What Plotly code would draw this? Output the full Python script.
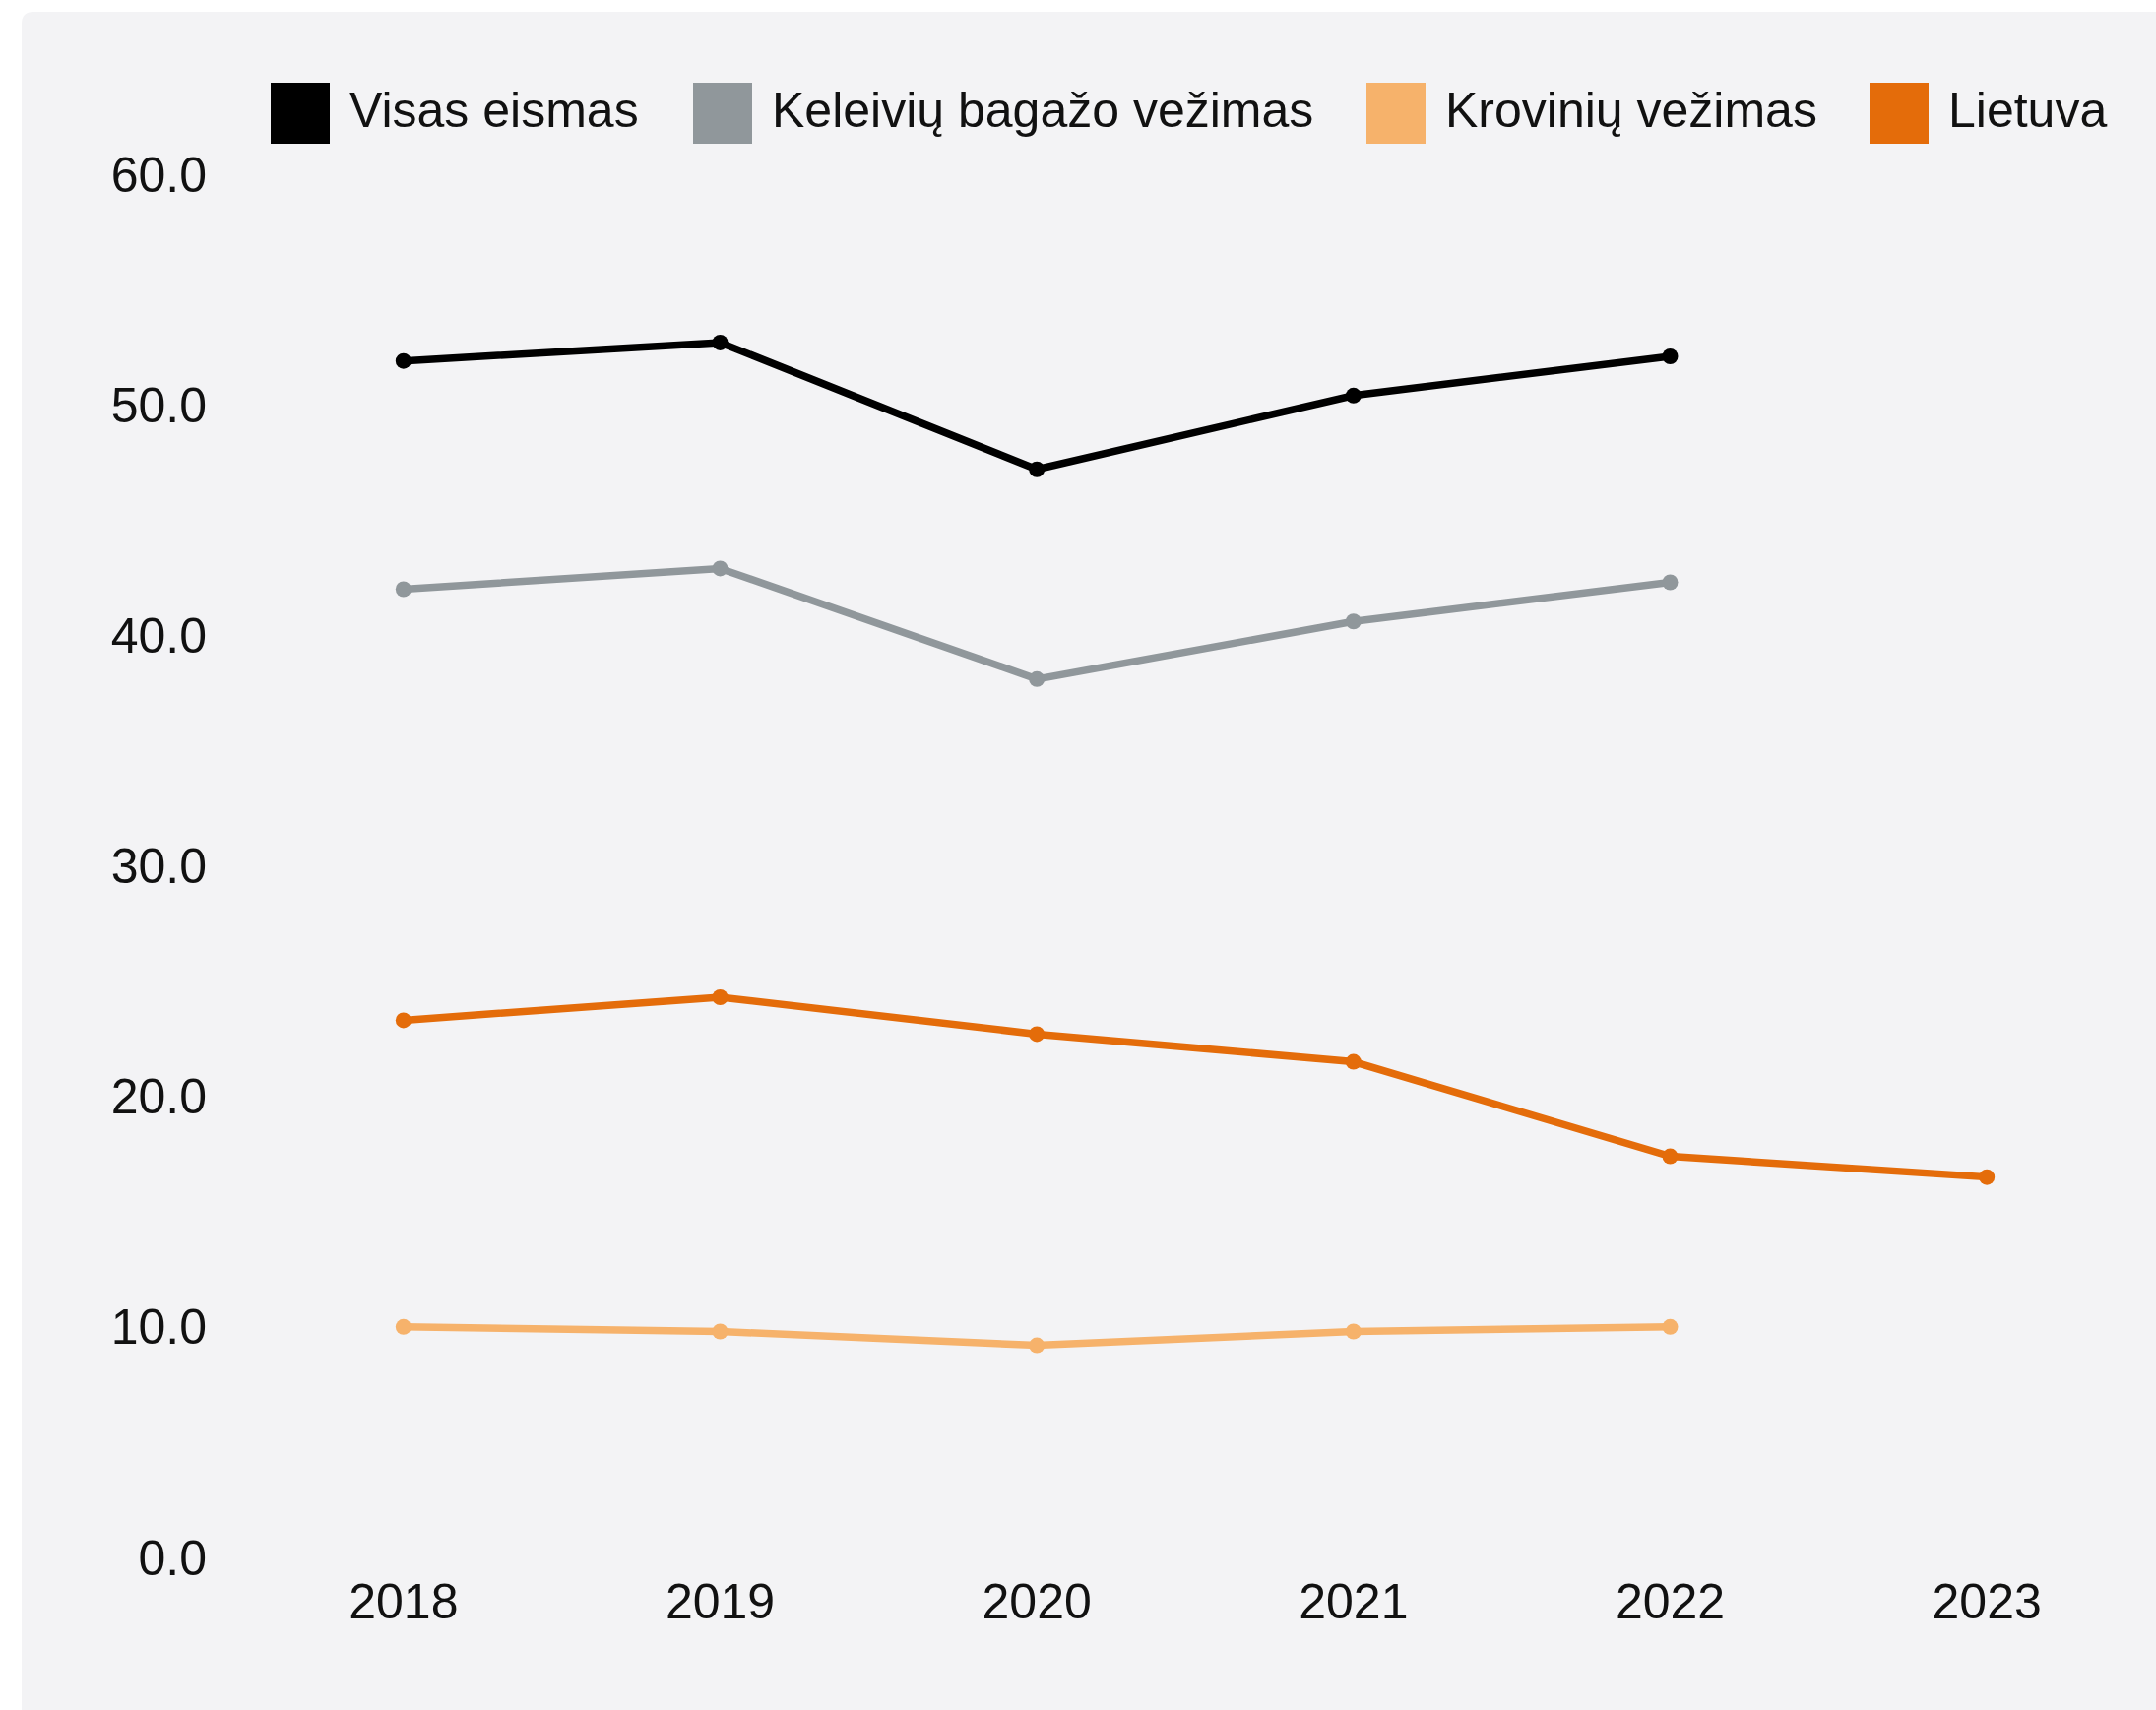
import plotly.graph_objects as go

years = [2018, 2019, 2020, 2021, 2022, 2023]
visas_eismas = [51.9, 52.7, 47.2, 50.4, 52.1]
keleiviu = [42.0, 42.9, 38.1, 40.6, 42.3]
kroviniu = [10.0, 9.8, 9.2, 9.8, 10.0]
lietuva = [23.3, 24.3, 22.7, 21.5, 17.4, 16.5]

names = ["Visas eismas", "Keleivių bagažo vežimas", "Krovinių vežimas", "Lietuva"]
colors = ["#000000", "#90979b", "#f6b26b", "#e46c0a"]
series = [visas_eismas, keleiviu, kroviniu, lietuva]
y_ticks = [0, 10, 20, 30, 40, 50, 60]

W, H = 2190, 1737
L, R, T, B = 249, 11, 130, 137
pw, ph = W - L - R, H - T - B

def px(x):
    return (x - L) / pw

def py(y):
    return (H - B - y) / ph

FONT = "Liberation Sans, Arial, sans-serif"

fig = go.Figure()
for name, col, vals in zip(names, colors, series):
    fig.add_trace(go.Scatter(
        x=years[:len(vals)], y=vals, name=name, mode="lines+markers",
        line=dict(color=col, width=7.5),
        marker=dict(color=col, size=16),
        showlegend=False,
    ))

# card background with rounded top-left corner
r = 12
x0, y0, x1, y1 = px(22), py(12), px(2210), py(1760)
rx, ry = r / pw, r / ph
path = (f"M {x0},{y1} L {x0},{y0 - ry} Q {x0},{y0} {x0 + rx},{y0} "
        f"L {x1},{y0} L {x1},{y1} Z")
shapes = [dict(type="path", path=path, xref="paper", yref="paper",
               fillcolor="#f3f3f5", line=dict(width=0), layer="below")]

# custom legend
sw_x = [275, 704, 1388, 1899]
annotations = []
for name, col, sx in zip(names, colors, sw_x):
    shapes.append(dict(type="rect", xref="paper", yref="paper",
                       x0=px(sx), x1=px(sx + 60), y0=py(146), y1=py(84),
                       fillcolor=col, line=dict(width=0)))
    annotations.append(dict(text=name, xref="paper", yref="paper",
                            x=px(sx + 78), y=py(112), xanchor="left", yanchor="middle",
                            showarrow=False, font=dict(family=FONT, size=50, color="#111111")))

fig.update_layout(
    width=W, height=H,
    margin=dict(l=L, r=R, t=T, b=B, pad=0),
    paper_bgcolor="#ffffff",
    plot_bgcolor="rgba(0,0,0,0)",
    font=dict(family=FONT, size=50, color="#111111"),
    shapes=shapes,
    annotations=annotations,
    showlegend=False,
    xaxis=dict(range=[2017.5, 2023.5], tickvals=years, ticktext=[str(y) for y in years],
               showgrid=False, zeroline=False, showline=False, ticks="",
               ticklabelstandoff=-7),
    yaxis=dict(range=[-(1600 - 1582) / 23.417, 60 + (177 - 130) / 23.417],
               tickvals=y_ticks, tickformat=".1f",
               showgrid=False, zeroline=False, showline=False, ticks="",
               ticklabelstandoff=38),
)

fig.write_html("out.html", config={"displayModeBar": False},
               post_script="document.body.style.margin='0';")
